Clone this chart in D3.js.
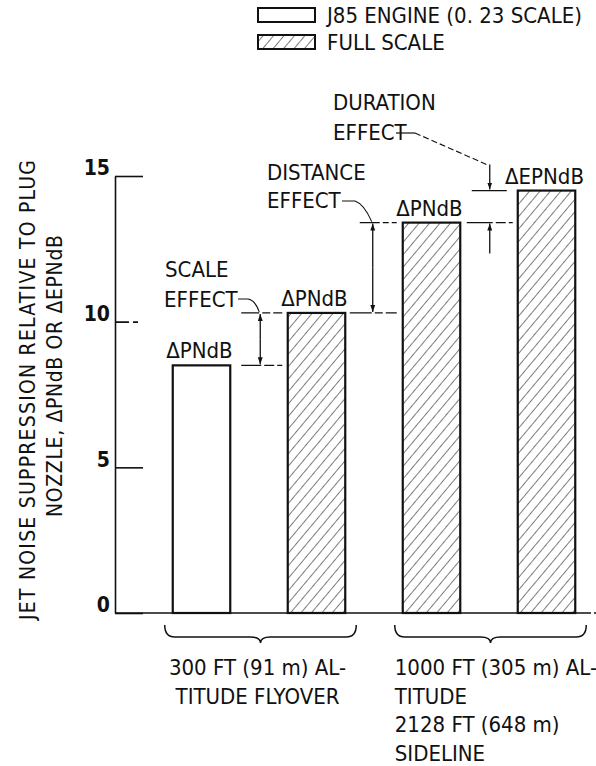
<!DOCTYPE html>
<html><head><meta charset="utf-8">
<script src="https://cdn.jsdelivr.net/npm/d3@7"></script>
<style>
html,body{margin:0;padding:0;background:#fff;}
svg text{font-family:"DejaVu Sans Condensed","DejaVu Sans",sans-serif;fill:#111;}
</style></head><body>
<svg id="c" width="596" height="766"></svg>
<script>
// ---- data ----
const barIds = ["j85_flyover", "full_flyover", "full_sideline_pndb", "full_sideline_epndb"];
const barSeries = ["J85 ENGINE (0. 23 SCALE)", "FULL SCALE", "FULL SCALE", "FULL SCALE"];
const barValues = [8.5, 10.3, 13.4, 14.5];
const barTopLabels = ["\u0394PNdB", "\u0394PNdB", "\u0394PNdB", "\u0394EPNdB"];
const seriesNames = ["J85 ENGINE (0. 23 SCALE)", "FULL SCALE"];
const yTicks = [0, 5, 10, 15];
const groupLabels = [
  ["300 FT (91 m) AL-", "TITUDE FLYOVER"],
  ["1000 FT (305 m) AL-", "TITUDE", "2128 FT (648 m)", "SIDELINE"]
];
const groupBars = [[0, 1], [2, 3]];
const yTitle = ["JET NOISE SUPPRESSION RELATIVE TO PLUG", "NOZZLE, \u0394PNdB OR \u0394EPNdB"];
const effects = [
  {name: ["SCALE", "EFFECT"], from: 0, to: 1},
  {name: ["DISTANCE", "EFFECT"], from: 1, to: 2},
  {name: ["DURATION", "EFFECT"], from: 2, to: 3}
];

const svg = d3.select("#c");
const ink = "#111";
const FS = 22;
const y = d3.scaleLinear().domain([0, 15]).range([613, 176]);
const x = d3.scaleBand().domain(barIds).range([144, 604]).paddingInner(0.5).paddingOuter(0.25);
const axisX = 115;

const defs = svg.append("defs");
const pat = defs.append("pattern").attr("id", "hatch").attr("patternUnits", "userSpaceOnUse")
  .attr("width", 8).attr("height", 8).attr("patternTransform", "rotate(40)");
pat.append("rect").attr("width", 8).attr("height", 8).attr("fill", "#fff");
pat.append("line").attr("x1", 0).attr("y1", 0).attr("x2", 0).attr("y2", 8).attr("stroke", ink).attr("stroke-width", 1.1);
const mk = defs.append("marker").attr("id", "arr").attr("viewBox", "0 0 10 10").attr("refX", 10).attr("refY", 5)
  .attr("markerWidth", 7).attr("markerHeight", 14).attr("markerUnits", "userSpaceOnUse").attr("orient", "auto");
mk.append("path").attr("d", "M0,1.5 L10,5 L0,8.5 Z").attr("fill", ink);
function fillFor(s) { return s === seriesNames[0] ? "#fff" : "url(#hatch)"; }

// legend
seriesNames.forEach((s, i) => {
  svg.append("rect").attr("x", 258).attr("y", 8 + i * 27).attr("width", 57).attr("height", 14)
    .attr("fill", fillFor(s)).attr("stroke", ink).attr("stroke-width", 2);
  svg.append("text").attr("x", 327).attr("y", 23 + i * 27).attr("font-size", FS).text(s);
});

// y axis
const ax = svg.append("g").attr("transform", `translate(${axisX},0)`)
  .call(d3.axisLeft(y).tickValues(yTicks).tickSizeInner(-28).tickSizeOuter(0).tickPadding(5));
ax.select(".domain").attr("stroke", ink).attr("stroke-width", 1.6);
ax.selectAll(".tick line").attr("stroke", ink).attr("stroke-width", 1.6)
  .attr("stroke-dasharray", d => d === 10 ? "14,4,5,5" : null);
ax.selectAll(".tick text").attr("font-family", "'Liberation Serif',serif").attr("font-size", 21)
  .attr("font-weight", "bold").attr("fill", ink).attr("dy", "-0.05em");

// baseline
svg.append("line").attr("x1", axisX).attr("x2", 589).attr("y1", y(0)).attr("y2", y(0))
  .attr("stroke", ink).attr("stroke-width", 1.6);
svg.append("line").attr("x1", 589).attr("x2", 596).attr("y1", y(0)).attr("y2", y(0))
  .attr("stroke", ink).attr("stroke-width", 1.6).attr("stroke-dasharray", "2,3");

// bars
svg.append("g").selectAll("rect").data(barIds).join("rect")
  .attr("x", d => x(d)).attr("width", x.bandwidth())
  .attr("y", (d, i) => y(barValues[i])).attr("height", (d, i) => y(0) - y(barValues[i]))
  .attr("fill", (d, i) => fillFor(barSeries[i])).attr("stroke", ink).attr("stroke-width", 2.2);

svg.append("g").selectAll("text").data(barIds).join("text")
  .attr("x", d => x(d) + x.bandwidth() / 2 - 2).attr("y", (d, i) => y(barValues[i]) - 7)
  .attr("text-anchor", "middle").attr("font-size", FS).text((d, i) => barTopLabels[i]);

// y title
const yTitleLen = [460, 282];
yTitle.forEach((t, i) => {
  svg.append("text").attr("transform", `translate(${35 + i * 27},${390 - i * 14}) rotate(-90)`)
    .attr("text-anchor", "middle").attr("font-size", 21)
    .attr("textLength", yTitleLen[i]).attr("lengthAdjust", "spacing").text(t);
});

// braces + group labels
groupBars.forEach((gb, gi) => {
  const x0 = x(barIds[gb[0]]) - 8, x1 = x(barIds[gb[1]]) + x.bandwidth() + 11, xc = (x0 + x1) / 2;
  const yt = 625, ym = 637, yb = 643;
  svg.append("path").attr("fill", "none").attr("stroke", ink).attr("stroke-width", 1.5)
    .attr("d", `M${x0},${yt} Q${x0},${ym} ${x0 + 10},${ym} L${xc - 10},${ym} Q${xc},${ym} ${xc},${yb} Q${xc},${ym} ${xc + 10},${ym} L${x1 - 10},${ym} Q${x1},${ym} ${x1},${yt}`);
  groupLabels[gi].forEach((l, li) => {
    const t = svg.append("text").attr("y", 675 + li * 28.5).attr("font-size", FS).text(l);
    if (gi === 0) t.attr("x", xc - 3).attr("text-anchor", "middle");
    else t.attr("x", x0).attr("text-anchor", "start");
  });
});

// effect annotations
const g = svg.append("g").attr("stroke", ink).attr("fill", "none");
function hline(x1, x2, yy, dash) {
  g.append("line").attr("x1", x1).attr("x2", x2).attr("y1", yy).attr("y2", yy).attr("stroke-width", 1.2)
    .attr("stroke-dasharray", dash || null);
}
function arrow(xx, ya, yb) {
  g.append("line").attr("x1", xx).attr("x2", xx).attr("y1", ya).attr("y2", yb).attr("stroke-width", 1.3)
    .attr("marker-end", "url(#arr)");
}
function txt(xx, yy, s) {
  svg.append("text").attr("x", xx).attr("y", yy).attr("font-size", FS).text(s);
}
// scale effect
{
  const e = effects[0];
  const yTop = y(barValues[e.to]), yBot = y(barValues[e.from]);
  const ax0 = x(barIds[e.from]) + x.bandwidth() + 30;
  hline(ax0 - 19, ax0 + 22, yTop, "18,3,8,3");
  hline(ax0 - 19, ax0 + 22, yBot, "20,3,10,3");
  const mid = (yTop + yBot) / 2;
  arrow(ax0, mid, yTop + 1); arrow(ax0, mid, yBot - 1);
  txt(165, 277, e.name[0]); txt(164, 307, e.name[1]);
  g.append("path").attr("stroke-width", 1.1).attr("d", `M238,299 L248,299 Q255,300 ${ax0 - 1},${yTop - 1}`);
}
// distance effect
{
  const e = effects[1];
  const yTop = y(barValues[e.to]), yBot = y(barValues[e.from]);
  const ax0 = x(barIds[e.to]) - 30;
  hline(ax0 - 13, ax0 + 24, yTop, "20,3,6,3");
  hline(ax0 - 23, ax0 + 24, yBot, "22,3,8,3");
  const mid = (yTop + yBot) / 2;
  arrow(ax0, mid, yTop + 1); arrow(ax0, mid, yBot - 1);
  txt(267, 180, e.name[0]); txt(267, 208, e.name[1]);
  g.append("path").attr("stroke-width", 1.1).attr("d", `M342,201 L355,201 Q364,204 ${ax0 - 1},${yTop - 1}`);
}
// duration effect
{
  const e = effects[2];
  const yBot = y(barValues[e.from]), yTop = y(barValues[e.to]);
  const ax0 = x(barIds[e.to]) - 28;
  hline(ax0 - 18, ax0 + 17, yTop, null);
  hline(ax0 - 23, ax0 + 23, yBot, "26,3,10,3");
  arrow(ax0, yTop - 26, yTop - 1);
  arrow(ax0, yBot + 31, yBot + 1);
  txt(333, 110, e.name[0]); txt(333, 140, e.name[1]);
  g.append("path").attr("stroke-width", 1.2).attr("d", `M396,133 L415,133`);
  g.append("path").attr("stroke-width", 1.1).attr("stroke-dasharray", "6,3")
    .attr("d", `M415,133 L${ax0 - 3},${yTop - 26}`);
}
</script>
</body></html>
